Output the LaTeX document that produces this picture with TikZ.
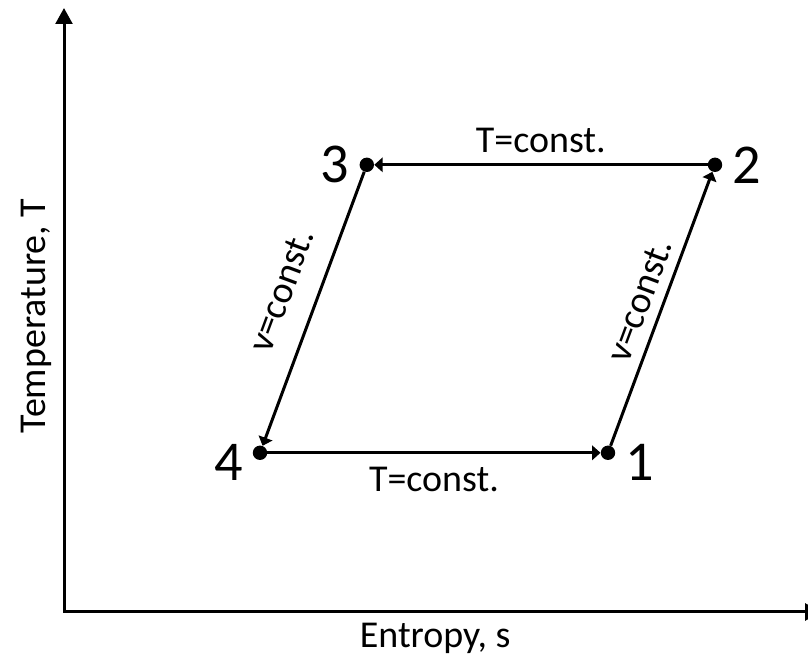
\documentclass[tikz,border=0pt]{standalone}
\usepackage{fontspec}
\setmainfont{Carlito}
\usetikzlibrary{arrows.meta}

\begin{document}
\begin{tikzpicture}[
    pt/.style={circle,fill,inner sep=0pt,minimum size=0.36cm},
    num/.style={font=\fontsize{40}{44}\selectfont,inner sep=1pt},
    lbl/.style={font=\fontsize{27}{32}\selectfont,inner sep=2pt},
    proc/.style={line width=0.075cm,-{Triangle[length=0.21cm,width=0.36cm]}}
  ]
  \useasboundingbox (0,0) rectangle (20.2,16.45);
  % axes
  \coordinate (O) at (1.6,1.15);
  \coordinate (Ttop) at (1.6,16.25);
  \coordinate (Send) at (20.53,1.15);
  \draw[line width=0.075cm,{Triangle[length=0.4cm,width=0.42cm]}-{Triangle[length=0.4cm,width=0.42cm]}]
    (Ttop) -- (O) -- (Send);
  \node[lbl,anchor=base] (xlab) at (10.88,0.25) {Entropy, s};
  \node[lbl,anchor=base,rotate=90] (ylab) at (1.125,8.55) {Temperature, T};
  % states
  \node[pt,label={[num,label distance=0.2cm,yshift=-0.25cm]180:4}] (S4) at (6.5,5.13) {};
  \node[pt,label={[num,label distance=0.2cm,yshift=-0.25cm]0:1}] (S1) at (15.2,5.13) {};
  \node[pt,label={[num,label distance=0.22cm]0:2}] (S2) at (17.875,12.33) {};
  \node[pt,label={[num,label distance=0.22cm]180:3}] (S3) at (9.17,12.33) {};
  % processes
  \draw[proc] (S1) -- node[lbl,sloped,above=0.175cm] {v=const.} (S2);
  \draw[proc] (S2) -- node[lbl,above=0.2cm] {T=const.} (S3);
  \draw[proc] (S3) -- node[lbl,sloped,above=0.5cm,pos=0.48] {v=const.} (S4);
  \draw[proc] (S4) -- node[lbl,below=0.255cm] {T=const.} (S1);
\end{tikzpicture}
\end{document}
